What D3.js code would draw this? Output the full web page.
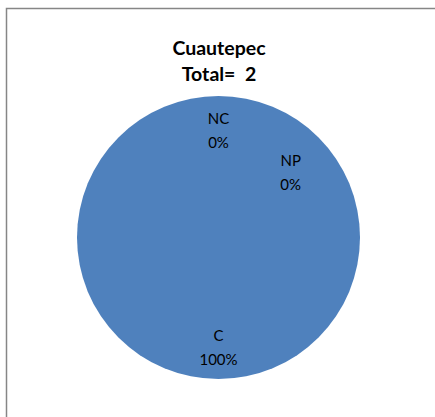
<!DOCTYPE html>
<html><head><meta charset="utf-8">
<script src="https://cdn.jsdelivr.net/npm/d3@7"></script>
<style>html,body{margin:0;padding:0;background:#fff;}svg{display:block;}text{white-space:pre;}</style>
</head><body>
<svg id="chart" width="435" height="417"></svg>
<script>
const titleLines = ["Cuautepec", "Total=  2"];
const categories = ["C", "NC", "NP"];
const values = [2, 0, 0];
const percentLabels = ["100%", "0%", "0%"];
const color = "#4F81BD";

const svg = d3.select("#chart");
const W = 435, H = 417;
svg.append("rect").attr("x", 6.5).attr("y", 8.5).attr("width", W).attr("height", H)
  .attr("fill", "#fff").attr("stroke", "#868686").attr("stroke-width", 1.5);

const font = "Lato, 'Open Sans', sans-serif";
svg.selectAll("text.title").data(titleLines).enter().append("text")
  .attr("class", "title").attr("x", 219).attr("y", (d, i) => 54.5 + i * 26.5)
  .attr("text-anchor", "middle").attr("font-family", font).attr("font-weight", "bold")
  .attr("font-size", 19.5).attr("fill", "#000").text(d => d);

const cx = 218.5, cy = 237.5, r = 141.5;
const data = categories.map((c, i) => ({cat: c, value: values[i], pct: percentLabels[i]}));
const pie = d3.pie().value(d => d.value).sort(null);
const arcs = pie(data);
const arc = d3.arc().innerRadius(0).outerRadius(r);
const g = svg.append("g").attr("transform", `translate(${cx},${cy})`);
g.selectAll("path").data(arcs).enter().append("path")
  .attr("d", arc).attr("fill", color).attr("stroke", "none");

// label placement: zero slices nudged apart as the original does
const labelRadius = [110, 107, 97];
const labelAngleNudge = [0, 0, 0.84];
const labelArcs = arcs.map((a, i) => {
  const mid = (a.startAngle + a.endAngle) / 2 + labelAngleNudge[i];
  const lr = labelRadius[i];
  return {d: a.data, x: Math.sin(mid) * lr, y: -Math.cos(mid) * lr};
});
const lab = g.selectAll("g.lab").data(labelArcs).enter().append("g")
  .attr("transform", d => `translate(${d.x},${d.y})`);
lab.append("text").attr("text-anchor", "middle").attr("y", -7)
  .attr("font-family", font).attr("font-size", 15).attr("fill", "#000").text(d => d.d.cat);
lab.append("text").attr("text-anchor", "middle").attr("y", 17)
  .attr("font-family", font).attr("font-size", 15).attr("fill", "#000").text(d => d.d.pct);
</script>
</body></html>
